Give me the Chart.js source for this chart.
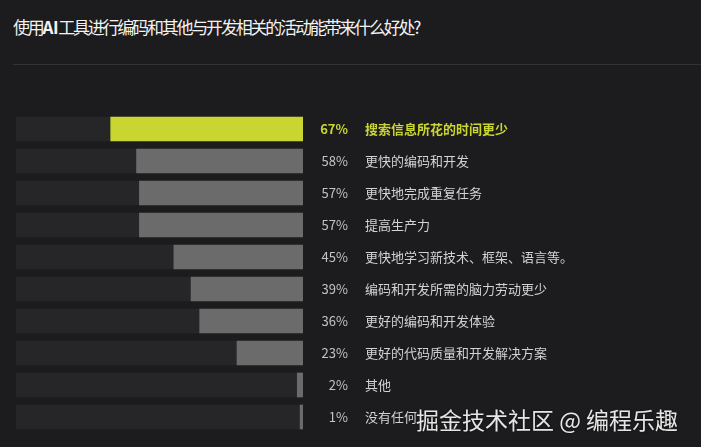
<!DOCTYPE html>
<html>
<head>
<meta charset="utf-8">
<script src="https://cdn.jsdelivr.net/npm/chart.js@4"></script>
<style>
  html, body { margin: 0; padding: 0; background: #1c1b1e; width: 701px; height: 447px; overflow: hidden; }
  #wrap { position: relative; width: 701px; height: 447px; }
  #titulo {
    position: absolute; left: 13px; top: 14px;
    font-family: "Noto Sans CJK SC", sans-serif; font-size: 17px; color: #f2f2f2;
    letter-spacing: -2.2px; white-space: nowrap; line-height: 26px;
  }
  #titulo b { font-weight: 700; letter-spacing: -0.5px; }
  #linha { position: absolute; left: 13px; right: 0; top: 64px; height: 1px; background: #333236; }
  #marca {
    position: absolute; left: 416px; top: 404px;
    font-family: "Noto Sans CJK SC", sans-serif; font-size: 23px; color: #e6e6e6;
    white-space: nowrap; line-height: 30px; text-shadow: 0 0 2px rgba(0,0,0,0.6);
  }
  canvas { position: absolute; left: 0; top: 0; }
</style>
</head>
<body>
<div id="wrap">
  <div id="titulo">使用<b>AI</b>工具进行编码和其他与开发相关的活动能带来什么好处?</div>
  <div id="linha"></div>
  <canvas id="grafico" width="701" height="447"></canvas>
  <div id="marca">掘金技术社区 @ 编程乐趣</div>
</div>
<script>
// dados
const categorias = [
  '搜索信息所花的时间更少',
  '更快的编码和开发',
  '更快地完成重复任务',
  '提高生产力',
  '更快地学习新技术、框架、语言等。',
  '编码和开发所需的脑力劳动更少',
  '更好的编码和开发体验',
  '更好的代码质量和开发解决方案',
  '其他',
  '没有任何'
];
const percentuais = [67, 58, 57, 57, 45, 39, 36, 23, 2, 1];
const fundo = [100, 100, 100, 100, 100, 100, 100, 100, 100, 100];
const destaque = 0; // índice da barra em destaque

const COR_DESTAQUE = '#c9d530';
const COR_BARRA = '#6b6b6b';
const COR_TRILHO = '#262628';

// desenha "67%  texto" à direita de cada barra
const rotulos = {
  id: 'rotulos',
  afterDatasetsDraw(chart) {
    const { ctx, scales: { y } } = chart;
    ctx.save();
    ctx.textBaseline = 'middle';
    categorias.forEach((cat, i) => {
      const py = y.getPixelForValue(i);
      const forte = i === destaque;
      ctx.font = (forte ? '700 ' : '400 ') + '13px "Noto Sans CJK SC", sans-serif';
      ctx.fillStyle = forte ? COR_DESTAQUE : '#c4c4c4';
      ctx.textAlign = 'right';
      ctx.fillText(percentuais[i] + '%', 348, py);
      ctx.fillStyle = forte ? COR_DESTAQUE : '#d2d2d2';
      ctx.textAlign = 'left';
      ctx.fillText(cat, 365, py);
    });
    ctx.restore();
  }
};

new Chart(document.getElementById('grafico').getContext('2d'), {
  type: 'bar',
  data: {
    labels: categorias,
    datasets: [
      {
        label: 'valor',
        data: percentuais,
        backgroundColor: percentuais.map((_, i) => i === destaque ? COR_DESTAQUE : COR_BARRA),
        barThickness: 24,
        borderSkipped: false,
        order: 1
      },
      {
        label: 'trilho',
        data: fundo,
        backgroundColor: COR_TRILHO,
        barThickness: 24,
        borderRadius: 2,
        borderSkipped: false,
        order: 2
      }
    ]
  },
  options: {
    indexAxis: 'y',
    responsive: false,
    animation: false,
    datasets: { bar: { grouped: false } },
    layout: { padding: { left: 16, right: 398, top: 113, bottom: 14 } },
    plugins: {
      legend: { display: false },
      tooltip: { enabled: false }
    },
    scales: {
      x: { display: false, min: 0, max: 100, reverse: true },
      y: { display: false }
    }
  },
  plugins: [rotulos]
});
</script>
</body>
</html>
